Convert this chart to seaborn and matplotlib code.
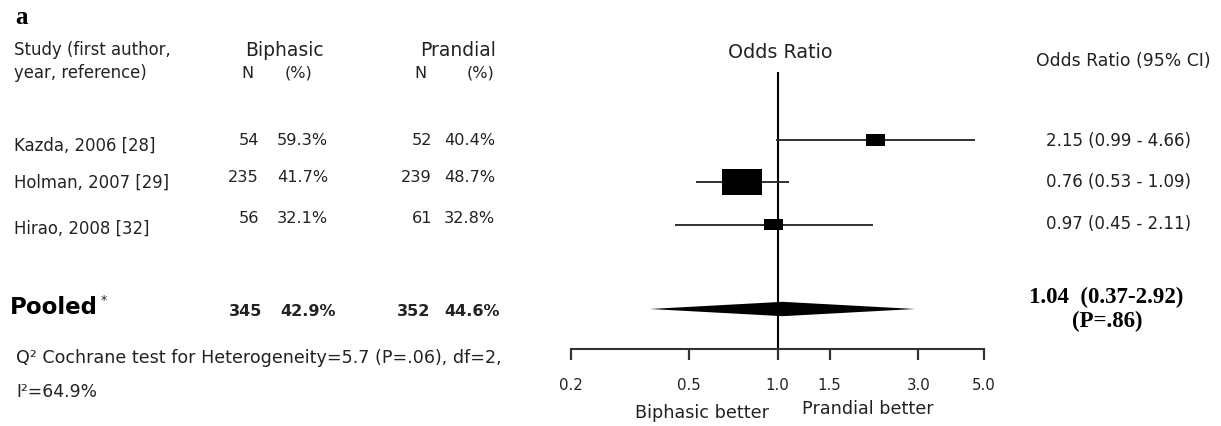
import numpy as np
import pandas as pd
import matplotlib
matplotlib.use("Agg")
import matplotlib.pyplot as plt
import seaborn as sns
from matplotlib.path import Path
from matplotlib.ticker import NullLocator

# ---------------- data ----------------
studies = ["Kazda, 2006 [28]", "Holman, 2007 [29]", "Hirao, 2008 [32]"]
bi_n = [54, 235, 56]
bi_pct = ["59.3%", "41.7%", "32.1%"]
pr_n = [52, 239, 61]
pr_pct = ["40.4%", "48.7%", "32.8%"]
odds = [2.15, 0.76, 0.97]
ci_lo = [0.99, 0.53, 0.45]
ci_hi = [4.66, 1.09, 2.11]
weights = [16, 69, 15]
pooled_n = [345, 352]
pooled_pct = ["42.9%", "44.6%"]
pooled_or = 1.04
pooled_lo = 0.37
pooled_hi = 2.92
pooled_p = ".86"
xticks = [0.2, 0.5, 1.0, 1.5, 3.0, 5.0]
xticklabels = ["0.2", "0.5", "1.0", "1.5", "3.0", "5.0"]
heterogeneity = "Q\u00b2 Cochrane test for Heterogeneity=5.7 (P=.06), df=2,"
i2_text = "I\u00b2=64.9%"

# ---------------- setup ----------------
sns.set_style("white")
plt.rcParams["font.family"] = ["DejaVu Sans"]
W, H = 1221, 427
fig = plt.figure(figsize=(W / 100, H / 100), dpi=100)
TC = "#222222"


def px(x, y):
    return x / W, 1 - y / H


def t(x, y, s, ha="left", va="center", size=11.6, **kw):
    kw.setdefault("color", TC)
    fig.text(*px(x, y), s, ha=ha, va=va, fontsize=size, **kw)


# ---------------- forest axes ----------------
ax = fig.add_axes([571 / W, (H - 350) / H, 413 / W, 277 / H])
rows = [1, 2, 3]
pooled_row = 5
ax.set_xscale("log")
ax.set_xlim(0.2, 5)
ax.set_ylim(5.947, -0.61)

df = pd.DataFrame({"study": studies, "odds": odds, "lo": ci_lo, "hi": ci_hi,
                   "w": weights, "row": rows})

ax.axvline(1.0, color="black", lw=1.5, zorder=2)
ax.hlines(df["row"], df["lo"], df["hi"], color="#222222", lw=1.3, zorder=2)

rect = Path([(-1, -0.64), (1, -0.64), (1, 0.64), (-1, 0.64), (-1, -0.64)],
            [Path.MOVETO, Path.LINETO, Path.LINETO, Path.LINETO, Path.CLOSEPOLY])
sns.scatterplot(data=df, x="odds", y="row", s=[w * 12 for w in weights],
                marker=rect, color="black", edgecolor="black", linewidth=0,
                legend=False, ax=ax, zorder=3)

h = 0.17
ax.fill([pooled_lo, pooled_or, pooled_hi, pooled_or],
        [pooled_row, pooled_row - h, pooled_row, pooled_row + h],
        color="black", lw=0, zorder=3)

for side in ["top", "right", "left"]:
    ax.spines[side].set_visible(False)
ax.spines["bottom"].set_linewidth(1.5)
ax.spines["bottom"].set_color("#333333")
ax.set_xticks(xticks)
ax.xaxis.set_minor_locator(NullLocator())
ax.set_xticklabels(xticklabels)
ax.set_yticks([])
ax.tick_params(axis="x", direction="out", length=8, width=1.6, pad=12,
               labelsize=10.8, colors="#333333", labelcolor=TC, bottom=True)
ax.set_xlabel("")
ax.set_ylabel("")
ax.patch.set_alpha(0)

# ---------------- texts ----------------
t(15, 17, "a", size=18, fontweight="bold", family=["Liberation Serif"], color="black")
t(14, 50, "Study (first author,", size=11.9)
t(14, 73, "year, reference)", size=11.9)
t(284, 50, "Biphasic", ha="center", size=13.5)
t(247, 73, "N", ha="center")
t(298, 73, "(%)", ha="center")
t(458, 50, "Prandial", ha="center", size=13.5)
t(420, 73, "N", ha="center")
t(481, 73, "(%)", ha="center")

label_y = [146, 183, 229]
num_y = [141, 178, 219]
for i in range(3):
    t(14, label_y[i], studies[i], size=11.9)
    t(259, num_y[i], str(bi_n[i]), ha="right")
    t(277, num_y[i], bi_pct[i])
    t(432, num_y[i], str(pr_n[i]), ha="right")
    t(444, num_y[i], pr_pct[i])

t(10, 308, "Pooled", size=16.5, fontweight="bold", color="black")
t(101, 301, "*", size=9, color=TC)
t(262, 311, str(pooled_n[0]), ha="right", size=11.5, fontweight="bold")
t(280, 311, pooled_pct[0], size=11.5, fontweight="bold")
t(430, 311, str(pooled_n[1]), ha="right", size=11.5, fontweight="bold")
t(444, 311, pooled_pct[1], size=11.5, fontweight="bold")

t(16, 358, heterogeneity, size=12.6)
t(16, 392, i2_text, size=12.3)

t(780, 52, "Odds Ratio", ha="center", size=13.8)
t(1211, 61, "Odds Ratio (95% CI)", ha="right", size=12.4)
val_y = [141, 182, 224]
for i in range(3):
    t(1119, val_y[i], f"{odds[i]:.2f} ({ci_lo[i]:.2f} - {ci_hi[i]:.2f})", ha="center", size=12)

t(1106, 297, f"{pooled_or:.2f}  ({pooled_lo:.2f}-{pooled_hi:.2f})", ha="center", size=16.5,
  fontweight="bold", family=["Liberation Serif"], color="black")
t(1107, 321, f"(P={pooled_p})", ha="center", size=16.5,
  fontweight="bold", family=["Liberation Serif"], color="black")

t(702, 413, "Biphasic better", ha="center", size=12.7)
t(868, 409, "Prandial better", ha="center", size=12.7)

fig.savefig("out.png", dpi=100)
